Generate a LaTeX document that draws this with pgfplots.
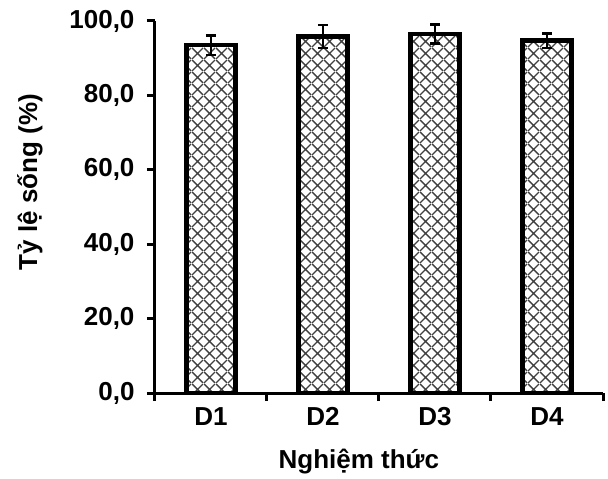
\documentclass[border=0pt]{standalone}
\usepackage{fontspec}
\setmainfont{Liberation Sans}
\usepackage{pgfplots}
\pgfplotsset{compat=1.18}
\usetikzlibrary{patterns.meta}

% diamond crosshatch used inside the bars
\tikzdeclarepattern{
  name=xhatch, type=uncolored,
  bounding box={(0,0) and (12pt,12pt)},
  tile size={(12pt,12pt)},
  code={\draw[line width=1.4pt] (0,0)--(12pt,12pt) (0,12pt)--(12pt,0);}
}

\begin{document}
\begin{tikzpicture}
\begin{axis}[
    scale only axis,
    width=448pt, height=372pt,
    xmin=0, xmax=4, ymin=0, ymax=100,
    axis lines*=left,
    axis line style={line width=3pt},
    tick align=outside,
    major tick length=8pt,
    tick style={line width=3pt, black},
    xtick={0,1,2,3,4},
    xticklabels={},
    extra x ticks={0.5,1.5,2.5,3.5},
    extra x tick labels={D1,D2,D3,D4},
    extra x tick style={tick style={draw=none}},
    xticklabel style={yshift=-3pt},
    ytick={0,20,40,60,80,100},
    yticklabel style={xshift=-9pt},
    /pgf/number format/.cd, fixed, fixed zerofill, precision=1, use comma, assume math mode=true,
    /pgfplots/.cd,
    ticklabel style={font=\bfseries\fontsize{26}{30}\selectfont},
    label style={font=\bfseries\fontsize{26}{30}\selectfont},
    xlabel={Nghiệm thức},
    xlabel style={at={(axis description cs:0.455,-0.185)}, anchor=center},
    ylabel={Tỷ lệ sống (\%)},
    ylabel style={at={(axis description cs:-0.279,0.567)}, anchor=center},
    clip=false,
]
\addplot[ybar, bar width=0.44, draw=black, line width=4.5pt,
    pattern=xhatch, pattern color=gray!50!black,
    error bars/.cd, y dir=both, y explicit,
    error bar style={line width=2.5pt, black},
    error mark options={rotate=90, mark size=5pt, line width=2.5pt, black}]
coordinates {
    (0.5,93.5) +- (0,2.6)
    (1.5,95.8) +- (0,3.1)
    (2.5,96.5) +- (0,2.5)
    (3.5,94.7) +- (0,2.0)
};
\end{axis}
\pgfresetboundingbox
\useasboundingbox (-155pt,-86pt) rectangle (453pt,393pt);
\end{tikzpicture}
\end{document}
